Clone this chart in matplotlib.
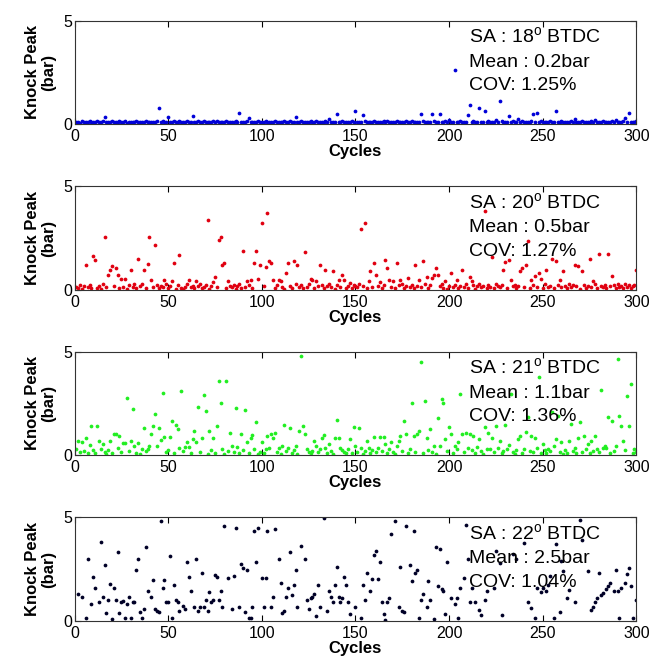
import numpy as np
import matplotlib
matplotlib.use('Agg')
import matplotlib.pyplot as plt

plt.rcParams['font.family'] = ['Liberation Sans', 'DejaVu Sans']
plt.rcParams['mathtext.fontset'] = 'custom'
plt.rcParams['mathtext.rm'] = 'Liberation Sans'

cycles = np.arange(1, 301)

# knock peak per cycle, spark advance 18 deg BTDC
kp_18 = [
    0.08, 0.11, 0.06, 0.12, 0.09, 0.10, 0.07, 0.13, 0.09, 0.11, 0.08, 0.12, 0.10, 0.07, 0.14, 0.35, 0.11, 0.08, 0.10, 0.12,
    0.09, 0.07, 0.11, 0.13, 0.08, 0.10, 0.12, 0.06, 0.09, 0.11, 0.10, 0.08, 0.12, 0.09, 0.07, 0.11, 0.10, 0.13, 0.08, 0.09,
    0.11, 0.07, 0.10, 0.12, 0.79, 0.09, 0.13, 0.08, 0.10, 0.35, 0.11, 0.07, 0.12, 0.09, 0.10, 0.15, 0.08, 0.11, 0.09, 0.12,
    0.10, 0.08, 0.36, 0.11, 0.09, 0.13, 0.07, 0.10, 0.12, 0.08, 0.11, 0.09, 0.10, 0.14, 0.08, 0.12, 0.09, 0.11, 0.07, 0.10,
    0.12, 0.09, 0.11, 0.08, 0.10, 0.13, 0.09, 0.52, 0.11, 0.08, 0.10, 0.12, 0.28, 0.09, 0.11, 0.07, 0.10, 0.12, 0.08, 0.11,
    0.09, 0.13, 0.10, 0.08, 0.11, 0.07, 0.12, 0.09, 0.10, 0.11, 0.08, 0.13, 0.09, 0.10, 0.12, 0.07, 0.11, 0.35, 0.09, 0.10,
    0.12, 0.08, 0.10, 0.11, 0.09, 0.13, 0.07, 0.10, 0.12, 0.08, 0.11, 0.09, 0.10, 0.12, 0.08, 0.25, 0.11, 0.09, 0.10, 0.50,
    0.10, 0.08, 0.12, 0.09, 0.11, 0.07, 0.10, 0.13, 0.09, 0.64, 0.11, 0.08, 0.10, 0.43, 0.12, 0.09, 0.11, 0.07, 0.10, 0.12,
    0.08, 0.11, 0.09, 0.10, 0.13, 0.07, 0.12, 0.09, 0.10, 0.11, 0.08, 0.12, 0.09, 0.10, 0.11, 0.07, 0.13, 0.09, 0.10, 0.12,
    0.08, 0.11, 0.09, 0.10, 0.50, 0.12, 0.08, 0.11, 0.09, 0.10, 0.50, 0.13, 0.08, 0.11, 0.50, 0.09, 0.10, 0.12, 0.08, 0.20,
    0.10, 0.09, 2.60, 0.11, 0.08, 0.12, 0.10, 0.07, 0.11, 0.43, 0.92, 0.09, 0.12, 0.10, 0.08, 0.76, 0.11, 0.10, 0.62, 0.09,
    0.12, 0.08, 0.11, 0.10, 0.20, 0.09, 1.13, 0.12, 0.08, 0.11, 0.09, 0.40, 0.10, 0.13, 0.08, 0.11, 0.25, 0.09, 0.12, 0.10,
    0.08, 0.11, 0.09, 0.13, 0.48, 0.10, 0.55, 0.08, 0.12, 0.09, 0.11, 0.10, 0.07, 0.12, 0.09, 0.11, 0.64, 0.10, 0.08, 0.13,
    0.09, 0.11, 0.10, 0.08, 0.12, 0.09, 0.22, 0.11, 0.10, 0.08, 0.13, 0.09, 0.11, 0.10, 0.07, 0.12, 0.09, 0.18, 0.10, 0.11,
    0.08, 0.12, 0.09, 0.11, 0.10, 0.07, 0.13, 0.09, 0.20, 0.10, 0.11, 0.08, 0.12, 0.30, 0.09, 0.52, 0.10, 0.11, 0.08, 0.12,
]

# spark advance 20 deg BTDC
kp_20 = [
    0.15, 0.08, 0.22, 0.05, 0.18, 1.18, 0.12, 0.25, 0.06, 1.61, 1.45, 0.10, 0.20, 0.04, 0.30, 2.53, 0.12, 0.73, 0.97, 1.13,
    0.20, 1.05, 0.73, 0.10, 0.52, 0.15, 0.52, 0.05, 0.22, 0.97, 0.12, 0.28, 0.08, 1.50, 0.18, 0.30, 0.97, 0.10, 1.26, 2.53,
    0.48, 0.15, 2.16, 0.25, 0.06, 0.20, 0.12, 0.48, 0.30, 0.08, 0.18, 0.40, 1.28, 0.05, 0.22, 1.68, 0.10, 0.02, 0.15, 0.26,
    0.48, 0.12, 0.20, 0.07, 0.43, 0.18, 0.28, 0.10, 0.15, 0.22, 3.40, 0.05, 0.20, 0.35, 0.60, 0.12, 2.42, 2.53, 1.18, 1.30,
    0.08, 0.40, 0.20, 0.12, 0.25, 0.05, 0.18, 0.28, 0.10, 1.86, 0.15, 0.40, 0.22, 0.48, 0.08, 1.30, 1.86, 0.52, 1.18, 3.23,
    0.20, 1.12, 3.70, 1.37, 1.30, 0.48, 0.10, 0.25, 0.48, 0.40, 0.15, 0.05, 0.81, 1.28, 0.20, 0.10, 1.37, 0.28, 1.18, 0.12,
    0.22, 0.06, 1.84, 0.15, 0.30, 0.53, 0.48, 0.10, 0.40, 0.20, 1.18, 0.25, 0.08, 0.97, 0.18, 0.30, 0.12, 0.89, 0.05, 0.22,
    0.48, 0.15, 0.73, 0.48, 0.10, 0.20, 0.32, 0.08, 0.25, 0.18, 0.12, 0.28, 2.92, 0.20, 3.24, 0.10, 0.40, 0.89, 0.15, 1.28,
    0.73, 0.20, 0.35, 0.08, 0.25, 1.44, 1.05, 0.48, 0.15, 0.40, 0.10, 1.28, 0.22, 0.48, 0.30, 0.06, 0.18, 0.56, 0.12, 0.25,
    0.10, 1.18, 0.20, 0.48, 0.15, 1.40, 0.28, 0.60, 0.08, 0.22, 0.56, 0.69, 1.05, 0.73, 0.18, 0.30, 0.10, 0.40, 0.05, 0.20,
    0.81, 0.12, 0.25, 0.48, 0.08, 0.20, 0.94, 0.15, 0.30, 0.10, 0.60, 0.43, 0.22, 0.05, 0.18, 0.28, 0.12, 0.20, 3.79, 0.10,
    0.25, 0.15, 1.60, 0.08, 0.30, 0.20, 0.12, 0.22, 0.97, 1.32, 0.10, 1.45, 0.48, 0.18, 0.25, 0.06, 0.20, 0.89, 1.05, 0.15,
    1.21, 2.34, 0.10, 0.48, 0.22, 0.65, 0.15, 0.81, 0.52, 0.08, 0.28, 0.97, 0.12, 0.20, 1.50, 0.10, 1.37, 0.25, 0.48, 0.15,
    0.89, 0.20, 0.08, 0.30, 0.12, 0.22, 1.21, 0.18, 1.13, 0.05, 0.89, 0.25, 0.10, 0.20, 1.50, 0.15, 0.40, 0.28, 0.08, 1.74,
    0.20, 0.12, 0.25, 0.10, 1.74, 0.18, 0.65, 0.22, 0.08, 0.30, 0.15, 0.20, 0.10, 0.28, 0.12, 0.22, 0.06, 0.18, 0.25, 0.97,
]

# spark advance 21 deg BTDC
kp_21 = [
    0.30, 0.68, 0.12, 0.60, 0.20, 0.84, 0.10, 0.47, 1.39, 0.25, 0.08, 1.39, 0.68, 0.30, 0.52, 0.15, 0.05, 0.24, 0.68, 0.10,
    1.00, 1.03, 0.35, 0.92, 0.12, 0.56, 0.56, 2.75, 0.20, 0.68, 2.22, 0.44, 0.10, 0.56, 0.05, 0.27, 1.30, 0.19, 0.30, 0.44,
    1.00, 1.41, 1.97, 0.44, 1.28, 0.71, 2.98, 0.87, 0.14, 0.25, 0.87, 1.65, 0.10, 1.45, 1.24, 0.35, 3.07, 0.20, 0.39, 0.60,
    0.39, 0.08, 0.79, 1.16, 0.60, 2.30, 0.15, 0.84, 2.90, 2.14, 0.05, 1.16, 0.25, 0.84, 0.10, 1.41, 3.56, 2.51, 0.30, 0.06,
    3.60, 0.20, 1.05, 0.44, 0.12, 2.28, 0.39, 0.08, 1.00, 0.22, 2.18, 0.60, 0.10, 0.84, 0.95, 0.30, 1.57, 0.05, 0.15, 0.63,
    0.10, 0.27, 0.92, 0.31, 1.03, 0.84, 1.05, 0.12, 0.35, 0.06, 0.44, 1.45, 0.20, 0.35, 1.28, 0.10, 0.25, 0.44, 0.05, 1.16,
    4.80, 1.39, 1.00, 0.30, 0.14, 0.08, 0.20, 0.68, 0.44, 0.12, 0.30, 0.84, 0.95, 0.35, 0.10, 0.52, 0.20, 0.05, 0.84, 1.71,
    0.84, 0.35, 0.25, 0.14, 0.10, 0.30, 0.79, 0.08, 1.33, 0.44, 0.15, 1.28, 0.35, 0.06, 0.20, 0.68, 0.35, 0.10, 0.25, 0.89,
    0.12, 0.31, 0.89, 0.20, 0.89, 0.52, 0.08, 0.30, 0.63, 0.15, 0.05, 0.44, 0.68, 0.92, 0.20, 1.63, 1.00, 0.10, 0.30, 2.51,
    0.92, 0.15, 1.03, 1.16, 4.51, 0.08, 2.59, 0.84, 0.25, 1.24, 0.12, 0.44, 0.05, 1.80, 0.44, 2.73, 2.51, 0.79, 0.20, 1.33,
    1.00, 0.10, 0.44, 0.30, 0.60, 2.94, 1.00, 0.15, 1.05, 0.35, 1.00, 0.25, 0.92, 0.10, 0.40, 0.76, 0.20, 0.06, 1.33, 0.30,
    1.08, 0.27, 0.84, 0.12, 1.41, 0.35, 0.68, 0.08, 0.20, 1.46, 0.30, 0.47, 2.96, 0.15, 0.05, 0.25, 0.76, 0.92, 0.10, 0.30,
    1.12, 1.82, 0.20, 0.92, 0.12, 0.84, 0.35, 3.75, 0.08, 0.52, 0.25, 0.10, 0.30, 0.19, 2.09, 0.44, 0.76, 1.90, 0.15, 0.60,
    0.05, 0.25, 0.10, 0.68, 1.49, 0.20, 0.35, 0.08, 0.84, 1.57, 0.15, 0.92, 0.30, 0.52, 0.10, 0.68, 0.20, 0.92, 0.27, 0.12,
    3.16, 0.35, 0.44, 0.35, 1.82, 0.10, 1.65, 0.20, 0.44, 4.64, 1.89, 1.41, 0.68, 0.25, 2.83, 1.41, 3.43, 0.10, 0.30, 0.15,
]

# spark advance 22 deg BTDC: cycles whose peak lies inside the 0-5 bar window
cyc_22 = [
    2, 4, 6, 7, 9, 10, 11, 13, 14, 15, 16, 17, 18, 19, 20, 21, 22, 23, 24, 25,
    26, 27, 28, 29, 30, 31, 32, 33, 34, 35, 36, 37, 38, 39, 41, 42, 43, 44, 45, 46,
    47, 48, 49, 50, 51, 52, 53, 54, 55, 56, 58, 59, 60, 61, 62, 64, 65, 66, 67, 68,
    69, 70, 71, 72, 73, 74, 75, 76, 77, 78, 79, 80, 82, 84, 85, 86, 88, 89, 90, 91,
    92, 93, 94, 95, 96, 97, 98, 100, 101, 102, 103, 105, 106, 107, 109, 110, 111, 112, 113, 114,
    115, 116, 117, 118, 119, 121, 123, 124, 125, 126, 127, 128, 129, 130, 131, 133, 135, 136, 137, 138,
    139, 140, 141, 142, 143, 144, 145, 146, 147, 150, 153, 154, 155, 156, 158, 159, 160, 161, 162, 163,
    164, 165, 166, 167, 168, 169, 171, 173, 174, 175, 176, 177, 179, 180, 181, 182, 183, 184, 185, 186,
    188, 189, 190, 192, 193, 194, 195, 196, 197, 198, 199, 201, 203, 204, 205, 206, 208, 209, 210, 211,
    212, 214, 216, 217, 219, 220, 224, 225, 227, 228, 234, 236, 240, 242, 244, 246, 247, 249, 250, 252,
    253, 254, 256, 257, 259, 260, 261, 263, 264, 267, 270, 271, 274, 276, 277, 278, 279, 280, 281, 282,
    284, 285, 286, 288, 289, 290, 291, 292, 294, 295, 296, 297, 298, 300,
]
kp_22 = [
    1.29, 1.17, 0.15, 3.01, 0.80, 2.12, 1.58, 0.93, 3.81, 1.17, 2.72, 0.36, 1.01, 1.77, 0.08, 1.58, 1.01, 3.34, 0.36, 0.89,
    0.96, 0.15, 0.80, 1.17, 0.15, 0.89, 0.89, 2.44, 3.01, 0.44, 0.15, 0.57, 3.57, 1.42, 1.17, 1.99, 0.57, 0.47, 0.41, 4.84,
    1.58, 1.99, 0.89, 0.89, 3.12, 0.12, 1.74, 1.01, 0.93, 0.47, 0.73, 0.57, 2.85, 2.12, 1.42, 0.64, 3.01, 0.47, 0.64, 2.31,
    0.68, 1.01, 0.47, 1.37, 0.93, 1.01, 2.23, 2.13, 1.01, 1.42, 0.68, 4.59, 2.07, 0.57, 2.15, 4.51, 0.68, 2.77, 2.53, 0.44,
    2.44, 0.15, 0.15, 0.68, 4.35, 2.85, 4.51, 2.07, 0.66, 2.07, 4.35, 0.68, 1.17, 4.43, 3.01, 1.82, 0.39, 0.49, 1.17, 1.58,
    3.32, 1.25, 1.74, 2.44, 0.68, 3.62, 3.01, 1.01, 0.57, 1.12, 1.17, 1.29, 0.23, 1.74, 0.68, 4.97, 0.47, 1.42, 1.17, 0.89,
    1.74, 2.61, 1.17, 0.89, 1.12, 2.12, 1.74, 0.93, 0.31, 0.68, 0.12, 1.74, 1.01, 2.30, 1.42, 2.04, 3.16, 3.37, 2.04, 2.84,
    0.89, 0.31, 0.03, 0.93, 1.12, 4.20, 4.84, 0.68, 2.61, 0.47, 0.41, 4.59, 2.72, 1.90, 4.35, 2.30, 2.44, 0.15, 1.01, 1.29,
    0.68, 1.90, 1.01, 0.08, 3.57, 1.66, 3.49, 1.53, 1.42, 0.33, 2.85, 1.12, 0.80, 1.12, 0.15, 1.58, 2.07, 4.64, 2.97, 0.93,
    1.58, 0.93, 0.52, 0.28, 1.01, 1.45, 1.58, 3.37, 2.78, 0.28, 3.21, 2.97, 3.75, 0.93, 0.60, 0.15, 1.58, 1.37, 1.60, 1.42,
    1.74, 2.15, 0.15, 3.70, 0.44, 2.88, 2.39, 1.09, 1.50, 0.93, 4.87, 3.89, 2.39, 0.52, 0.68, 0.93, 1.09, 2.31, 1.25, 1.33,
    1.53, 1.66, 1.82, 1.42, 2.48, 1.45, 0.12, 1.58, 1.82, 2.26, 2.53, 1.66, 0.12, 1.01,
]

spark_advance = [18, 20, 21, 22]
mean_peak = ['0.2', '0.5', '1.1', '2.5']
cov_pct = ['1.25', '1.27', '1.36', '1.04']
colors = ['#0000d8', '#e00010', '#22ee22', '#000026']
series = [(cycles, kp_18), (cycles, kp_20), (cycles, kp_21), (cyc_22, kp_22)]

fig = plt.figure(figsize=(6.54, 6.66), dpi=100)
left, width, height = 0.114, 0.859, 0.155
bottoms = [0.814, 0.565, 0.317, 0.068]

for i in range(4):
    ax = fig.add_axes([left, bottoms[i], width, height])
    x, y = series[i]
    ax.plot(x, y, linestyle='none', marker='o', ms=2.7, mew=0, color=colors[i])
    ax.set_xlim(0, 300)
    ax.set_ylim(0, 5)
    ax.set_xticks(np.arange(0, 301, 50))
    ax.set_yticks([0, 5])
    ax.tick_params(direction='in', top=True, right=True, length=4, width=0.8,
                   labelsize=11.5)
    ax.tick_params(axis='x', pad=4)
    ax.tick_params(axis='y', pad=2)
    for sp in ax.spines.values():
        sp.set_linewidth(0.8)
        sp.set_color('#333333')
    ax.set_xlabel('Cycles', fontsize=12, fontweight='bold', labelpad=0)
    ax.set_ylabel('Knock Peak\n(bar)', fontsize=12, fontweight='bold',
                  labelpad=5, linespacing=1.1)

    tx = 0.702
    ax.text(tx, 0.78, 'SA : %d$^{\\rm o}$ BTDC' % spark_advance[i],
            transform=ax.transAxes, fontsize=14, va='baseline')
    ax.text(tx, 0.555, 'Mean : %sbar' % mean_peak[i],
            transform=ax.transAxes, fontsize=14, va='baseline')
    ax.text(tx, 0.33, 'COV: %s%%' % cov_pct[i],
            transform=ax.transAxes, fontsize=14, va='baseline')

fig.savefig('out.png', dpi=100)
